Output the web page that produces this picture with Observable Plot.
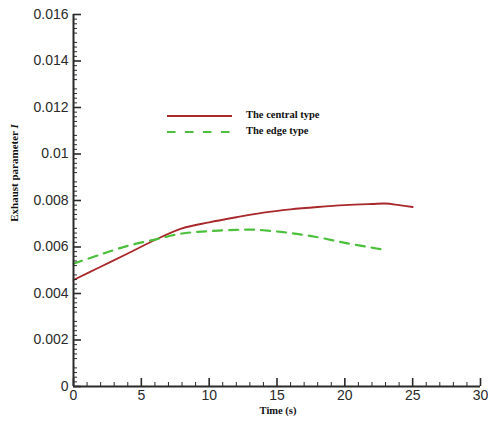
<!DOCTYPE html>
<html>
<head>
<meta charset="utf-8">
<script src="https://cdn.jsdelivr.net/npm/d3@7"></script>
<script src="https://cdn.jsdelivr.net/npm/@observablehq/plot@0.6"></script>
<style>
  html, body { margin: 0; padding: 0; background: #fff; }
  #wrap { position: relative; width: 488px; height: 423px; }
  #overlay { position: absolute; left: 0; top: 0; pointer-events: none; }
</style>
</head>
<body>
<div id="wrap"></div>
<script>
// Data
const centralTime = [0, 2, 4, 6, 8, 10, 12, 14, 16, 18, 20, 22, 23, 24, 25];
const centralValue = [0.00458, 0.00515, 0.00572, 0.0063, 0.0068, 0.00706, 0.00728, 0.00748, 0.00762, 0.00772, 0.0078, 0.00785, 0.00787, 0.0078, 0.00772];
const edgeTime = [0, 2, 4, 6, 8, 10, 12, 13, 14, 16, 18, 20, 22, 23];
const edgeValue = [0.00528, 0.00568, 0.00605, 0.00632, 0.00658, 0.00668, 0.00674, 0.00675, 0.00672, 0.0066, 0.00642, 0.00618, 0.00597, 0.00587];
const seriesNames = ["The central type", "The edge type"];
const xMajorTicks = [0, 5, 10, 15, 20, 25, 30];
const xMinorTicks = d3.range(0, 31, 1).filter(d => d % 5 !== 0);
const yMajorTicks = [0, 0.002, 0.004, 0.006, 0.008, 0.01, 0.012, 0.014, 0.016];
const yMinorTicks = d3.range(0, 81, 1).filter(d => d % 5 !== 0).map(d => d * 0.0002);
const xLabel = "Time (s)";
const yLabel = "Exhaust parameter ";
const yLabelSymbol = "I";

const central = centralTime.map((t, i) => ({t, v: centralValue[i]}));
const edge = edgeTime.map((t, i) => ({t, v: edgeValue[i]}));

const RED = "#a8282c";
const GREEN = "#4cbf3c";
const AXIS = "#2a2a2a";
const fmtY = d => String(+d.toFixed(3));

const plot = Plot.plot({
  width: 488,
  height: 423,
  marginLeft: 73,
  marginRight: 8,
  marginTop: 14,
  marginBottom: 37,
  x: {domain: [0, 30]},
  y: {domain: [0, 0.016]},
  style: {fontFamily: "'Liberation Sans', Arial, sans-serif", fontSize: "14px", color: AXIS, background: "#fff"},
  marks: [
    Plot.line(central, {x: "t", y: "v", stroke: RED, strokeWidth: 1.8, curve: "catmull-rom"}),
    Plot.line(edge, {x: "t", y: "v", stroke: GREEN, strokeWidth: 2.2, strokeDasharray: "9,7", curve: "catmull-rom"}),
    // tick labels
    Plot.axisY({ticks: yMajorTicks, tickSize: 0, tickPadding: 5, tickFormat: fmtY, label: null, fill: AXIS, fontSize: 14}),
    Plot.axisX({ticks: xMajorTicks, tickSize: 0, tickPadding: 4, tickFormat: d => String(d), label: null, fill: AXIS, fontSize: 14}),
    // inward ticks
    Plot.axisY({ticks: yMajorTicks, tickSize: -8, tickFormat: () => "", label: null, stroke: AXIS, strokeWidth: 1.6}),
    Plot.axisY({ticks: yMinorTicks, tickSize: -4, tickFormat: () => "", label: null, stroke: AXIS, strokeWidth: 1}),
    Plot.axisX({ticks: xMajorTicks, tickSize: -8, tickFormat: () => "", label: null, stroke: AXIS, strokeWidth: 1.6}),
    Plot.axisX({ticks: xMinorTicks, tickSize: -4, tickFormat: () => "", label: null, stroke: AXIS, strokeWidth: 1}),
    Plot.ruleX([0], {stroke: AXIS, strokeWidth: 2}),
    Plot.ruleY([0], {stroke: AXIS, strokeWidth: 2})
  ]
});
document.getElementById("wrap").appendChild(plot);

// Overlay: axis titles and legend
const ns = "http://www.w3.org/2000/svg";
const svg = d3.select("#wrap").append("svg")
  .attr("id", "overlay")
  .attr("width", 488).attr("height", 423)
  .attr("xmlns", ns);
const serif = "'Liberation Serif', 'Times New Roman', serif";

svg.append("text")
  .attr("x", 278).attr("y", 414)
  .attr("text-anchor", "middle")
  .attr("font-family", serif).attr("font-weight", "bold").attr("font-size", 10.5)
  .attr("fill", "#111")
  .text(xLabel);

const yl = svg.append("text")
  .attr("transform", "translate(18,173) rotate(-90)")
  .attr("text-anchor", "middle")
  .attr("font-family", serif).attr("font-weight", "bold").attr("font-size", 11)
  .attr("fill", "#111");
yl.append("tspan").text(yLabel);
yl.append("tspan").attr("font-style", "italic").text(yLabelSymbol);

const legendColors = [RED, GREEN];
const legendDash = [null, "8.5,9.5"];
const legendWidth = [1.8, 2.2];
seriesNames.forEach((name, i) => {
  const y = 116 + i * 16;
  svg.append("line")
    .attr("x1", 167).attr("x2", 232).attr("y1", y).attr("y2", y)
    .attr("stroke", legendColors[i]).attr("stroke-width", legendWidth[i])
    .attr("stroke-dasharray", legendDash[i]);
  svg.append("text")
    .attr("x", 246).attr("y", y + 2)
    .attr("font-family", serif).attr("font-weight", "bold").attr("font-size", 10.5)
    .attr("fill", "#111")
    .text(name);
});
</script>
</body>
</html>
